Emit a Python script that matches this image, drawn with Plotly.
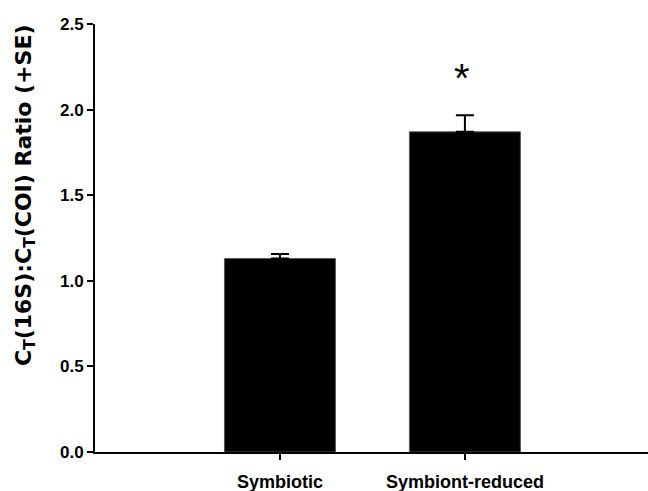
import plotly.graph_objects as go

categories = ["Symbiotic", "Symbiont-reduced"]
ratio_means = [1.13, 1.87]
ratio_se = [0.027, 0.097]
y_ticks = [0.0, 0.5, 1.0, 1.5, 2.0, 2.5]
y_tick_labels = ["0.0", "0.5", "1.0", "1.5", "2.0", "2.5"]
significance = ["", "*"]
y_title = "<b>C<sub>T</sub>(16S):C<sub>T</sub>(COI) Ratio (+SE)</b>"

x_pos = list(range(len(categories)))
FONT = "Liberation Sans, Arial, sans-serif"
TITLE_FONT = "DejaVu Sans, Liberation Sans, sans-serif"

fig = go.Figure()
fig.add_trace(go.Bar(
    x=x_pos, y=ratio_means, width=0.6,
    marker=dict(color="black", line=dict(color="#555555", width=1)),
    error_y=dict(type="data", symmetric=False, array=ratio_se,
                 arrayminus=[0] * len(ratio_se), color="black",
                 thickness=2, width=9),
    showlegend=False,
))

for i, s in enumerate(significance):
    if s:
        fig.add_annotation(x=x_pos[i], y=ratio_means[i] + ratio_se[i] + 0.22,
                           text=s, showarrow=False, xref="x", yref="y",
                           xshift=-3,
                           font=dict(family=FONT, size=40, color="black"),
                           yanchor="middle")

# y-axis title placed as a rotated annotation (it sits above the axis centre)
fig.add_annotation(x=-0.127, y=0.6, xref="paper", yref="paper",
                   text=y_title, textangle=-90, showarrow=False,
                   xanchor="center", yanchor="middle",
                   font=dict(family=TITLE_FONT, size=22, color="black"))

fig.update_layout(
    width=648, height=491,
    margin=dict(l=95, r=0, t=24, b=39),
    plot_bgcolor="white", paper_bgcolor="white",
    font=dict(family=FONT, color="black"),
    xaxis=dict(
        tickmode="array", tickvals=x_pos,
        ticktext=["<b>%s</b>" % c for c in categories],
        range=[-1.0, 1.99], showgrid=False, zeroline=False,
        showline=True, linecolor="black", linewidth=2,
        ticks="outside", ticklen=6, tickwidth=2, tickcolor="black",
        tickfont=dict(family=FONT, size=18, color="black"),
        ticklabelstandoff=6, automargin=False,
    ),
    yaxis=dict(
        tickmode="array", tickvals=y_ticks,
        ticktext=["<b>%s</b>" % t for t in y_tick_labels],
        range=[0, 2.5], showgrid=False, zeroline=False,
        showline=True, linecolor="black", linewidth=2,
        ticks="outside", ticklen=6, tickwidth=2, tickcolor="black",
        tickfont=dict(family=FONT, size=17, color="black"),
        automargin=False,
    ),
)

fig.write_html(
    "out.html",
    config={"displayModeBar": False},
    post_script="document.body.style.margin='0';document.body.style.overflow='hidden';",
)
